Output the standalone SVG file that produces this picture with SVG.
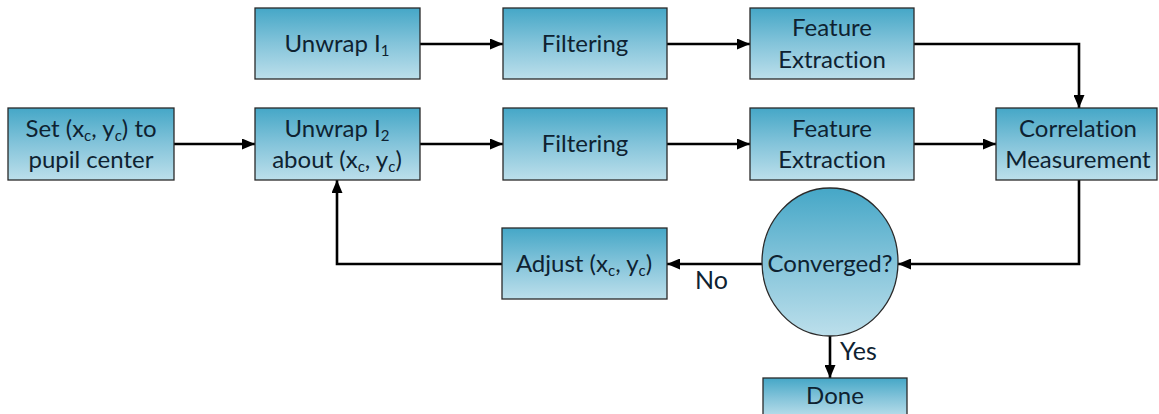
<svg xmlns="http://www.w3.org/2000/svg" width="1159" height="414" viewBox="0 0 1159 414">
  <defs>
    <linearGradient id="fill" x1="0" y1="0" x2="0" y2="1">
      <stop offset="0" stop-color="#45a7c7"/>
      <stop offset="0.5" stop-color="#84c4da"/>
      <stop offset="1" stop-color="#bcdfeb"/>
    </linearGradient>
    <marker id="arrow" viewBox="0 0 13 11" refX="13" refY="5.5" markerWidth="13" markerHeight="11" markerUnits="userSpaceOnUse" orient="auto">
      <path d="M0,0 L13,5.5 L0,11 z" fill="#000"/>
    </marker>
    <style>
      .box { fill: url(#fill); stroke: #2a2a2a; stroke-width: 1.3; }
      .lbl { font-family: Lato, "Open Sans", "Liberation Sans", sans-serif; font-size: 24px; fill: #0e2231; text-anchor: middle; font-variant-ligatures: none; }
      .edge { fill: none; stroke: #000; stroke-width: 2.6; marker-end: url(#arrow); }
      .tag { font-family: Lato, "Open Sans", "Liberation Sans", sans-serif; font-size: 25px; fill: #0e2231; }
      .sub { font-size: 15px; }
    </style>
  </defs>
  <rect width="1159" height="414" fill="#fff"/>

  <g id="connectors">
    <line class="edge" x1="174" y1="144" x2="255" y2="144"/>
    <line class="edge" x1="420" y1="44" x2="503" y2="44"/>
    <line class="edge" x1="667" y1="44" x2="750" y2="44"/>
    <polyline class="edge" points="914,44 1079,44 1079,108"/>
    <line class="edge" x1="420" y1="144" x2="503" y2="144"/>
    <line class="edge" x1="667" y1="144" x2="750" y2="144"/>
    <line class="edge" x1="914" y1="144" x2="996" y2="144"/>
    <polyline class="edge" points="1079,180 1079,264 898,264"/>
    <line class="edge" x1="762" y1="264" x2="667" y2="264"/>
    <polyline class="edge" points="502,264 337,264 337,180"/>
    <line class="edge" x1="830" y1="336" x2="830" y2="378"/>
    <text class="tag" x="695" y="289">No</text>
    <text class="tag" x="840" y="360">Yes</text>
  </g>

  <g id="set-center">
    <rect class="box" x="8" y="108" width="166" height="72"/>
    <text class="lbl" x="91" y="137">Set (x<tspan class="sub" dy="4">c</tspan><tspan dy="-4">, y</tspan><tspan class="sub" dy="4">c</tspan><tspan dy="-4">) to</tspan></text>
    <text class="lbl" x="91" y="168">pupil center</text>
  </g>

  <g id="unwrap-i1">
    <rect class="box" x="255" y="8" width="165" height="71"/>
    <text class="lbl" x="337" y="52">Unwrap I<tspan class="sub" dy="4">1</tspan></text>
  </g>

  <g id="filtering-1">
    <rect class="box" x="503" y="8" width="164" height="71"/>
    <text class="lbl" x="585" y="52">Filtering</text>
  </g>

  <g id="feature-1">
    <rect class="box" x="750" y="8" width="164" height="71"/>
    <text class="lbl" x="832" y="36">Feature</text>
    <text class="lbl" x="832" y="68">Extraction</text>
  </g>

  <g id="unwrap-i2">
    <rect class="box" x="255" y="108" width="165" height="72"/>
    <text class="lbl" x="337" y="137">Unwrap I<tspan class="sub" dy="4">2</tspan></text>
    <text class="lbl" x="337" y="168">about (x<tspan class="sub" dy="4">c</tspan><tspan dy="-4">, y</tspan><tspan class="sub" dy="4">c</tspan><tspan dy="-4">)</tspan></text>
  </g>

  <g id="filtering-2">
    <rect class="box" x="503" y="108" width="164" height="72"/>
    <text class="lbl" x="585" y="152">Filtering</text>
  </g>

  <g id="feature-2">
    <rect class="box" x="750" y="108" width="164" height="72"/>
    <text class="lbl" x="832" y="137">Feature</text>
    <text class="lbl" x="832" y="168">Extraction</text>
  </g>

  <g id="correlation">
    <rect class="box" x="996" y="108" width="161" height="72"/>
    <text class="lbl" x="1078" y="137">Correlation</text>
    <text class="lbl" x="1078" y="168">Measurement</text>
  </g>

  <g id="adjust">
    <rect class="box" x="502" y="228" width="165" height="71"/>
    <text class="lbl" x="584" y="272">Adjust (x<tspan class="sub" dy="4">c</tspan><tspan dy="-4">, y</tspan><tspan class="sub" dy="4">c</tspan><tspan dy="-4">)</tspan></text>
  </g>

  <g id="converged">
    <ellipse class="box" cx="830" cy="262" rx="68" ry="74"/>
    <text class="lbl" x="830" y="272">Converged?</text>
  </g>

  <g id="done">
    <rect class="box" x="763" y="378" width="144" height="40"/>
    <text class="lbl" x="835" y="404">Done</text>
  </g>
</svg>
